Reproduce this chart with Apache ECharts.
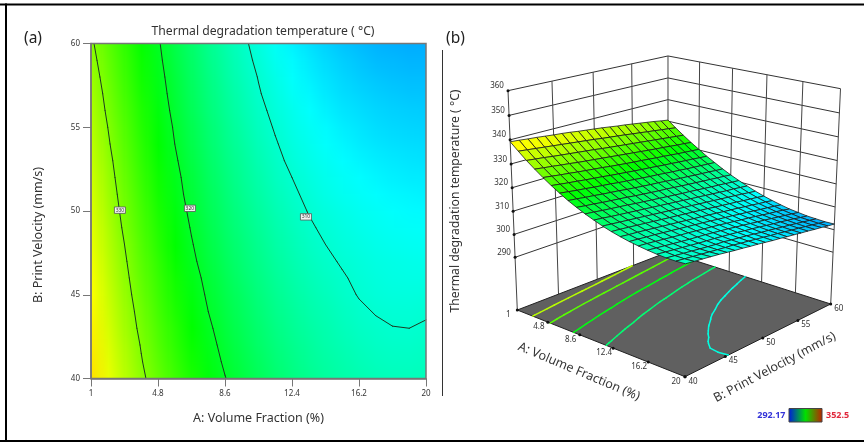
<!DOCTYPE html>
<html lang="en">
<head>
    <meta charset="UTF-8">
    <title>Thermal degradation temperature</title>
    <script src="https://cdn.jsdelivr.net/npm/echarts@6/dist/echarts.min.js"></script>
    <style>
        html, body { margin: 0; background: #fff; }
        #main { width: 864px; height: 442px; }
    </style>
</head>
<body>
<div id="main"></div>
<script>
    // axis ticks
    const volumeTicks = [1, 4.8, 8.6, 12.4, 16.2, 20];
    const velocityTicks = [40, 45, 50, 55, 60];
    const tempTicks = [290, 300, 310, 320, 330, 340, 350, 360];
    const legendRange = [292.17, 352.5];

    // mesh nodes of the response surface
    const volumeGrid = [1, 1.95, 2.9, 3.85, 4.8, 5.75, 6.7, 7.65, 8.6, 9.55, 10.5, 11.45, 12.4, 13.35, 14.3, 15.25, 16.2, 17.15, 18.1, 19.05, 20];
    const velocityGrid = [40, 41, 42, 43, 44, 45, 46, 47, 48, 49, 50, 51, 52, 53, 54, 55, 56, 57, 58, 59, 60];

    // temperature, one row per velocity, one column per volume fraction
    const tempGrid = [
        [339.2, 336.2, 333.3, 330.7, 328.2, 325.9, 323.8, 321.8, 320.1, 318.5, 317.1, 315.8, 314.7, 313.8, 313.0, 312.4, 311.9, 311.5, 311.25, 311.2, 311.4],
        [338.9, 335.8, 332.9, 330.2, 327.7, 325.4, 323.3, 321.4, 319.6, 318.1, 316.7, 315.4, 314.4, 313.4, 312.7, 312.1, 311.5, 311.1, 310.85, 310.8, 311.0],
        [338.5, 335.4, 332.5, 329.8, 327.2, 324.9, 322.8, 320.9, 319.2, 317.6, 316.2, 315.0, 314.0, 313.1, 312.3, 311.7, 311.1, 310.7, 310.45, 310.4, 310.6],
        [338.2, 335.0, 332.0, 329.3, 326.8, 324.5, 322.4, 320.5, 318.7, 317.2, 315.8, 314.6, 313.6, 312.7, 312.0, 311.3, 310.7, 310.3, 310.05, 310.0, 310.2],
        [337.8, 334.6, 331.6, 328.9, 326.3, 324.0, 321.9, 320.0, 318.3, 316.8, 315.4, 314.2, 313.2, 312.3, 311.6, 310.9, 310.3, 309.9, 309.65, 309.6, 309.8],
        [337.4, 334.2, 331.2, 328.4, 325.9, 323.6, 321.5, 319.6, 317.9, 316.4, 315.0, 313.8, 312.8, 311.9, 311.2, 310.5, 309.9, 309.5, 309.25, 309.2, 309.3],
        [337.1, 333.8, 330.8, 328.0, 325.5, 323.2, 321.1, 319.2, 317.5, 315.9, 314.6, 313.4, 312.4, 311.5, 310.8, 310.2, 309.6, 309.2, 308.9, 308.8, 308.8],
        [336.7, 333.4, 330.4, 327.6, 325.1, 322.7, 320.6, 318.7, 317.0, 315.5, 314.2, 313.0, 312.0, 311.1, 310.4, 309.8, 309.3, 308.9, 308.7, 308.5, 308.4],
        [336.2, 333.0, 330.0, 327.2, 324.6, 322.3, 320.2, 318.3, 316.6, 315.1, 313.8, 312.6, 311.6, 310.7, 310.0, 309.4, 308.9, 308.5, 308.2, 308.0, 307.9],
        [335.8, 332.6, 329.5, 326.8, 324.2, 321.9, 319.8, 317.9, 316.2, 314.7, 313.4, 312.2, 311.2, 310.3, 309.6, 309.0, 308.5, 308.1, 307.8, 307.6, 307.5],
        [335.4, 332.1, 329.1, 326.4, 323.8, 321.5, 319.4, 317.5, 315.8, 314.3, 313.0, 311.8, 310.8, 309.9, 309.2, 308.6, 308.1, 307.7, 307.4, 307.1, 307.0],
        [335.0, 331.7, 328.7, 326.0, 323.4, 321.1, 319.0, 317.2, 315.5, 313.9, 312.6, 311.4, 310.4, 309.5, 308.7, 308.1, 307.6, 307.2, 306.9, 306.7, 306.5],
        [334.5, 331.3, 328.3, 325.6, 323.1, 320.8, 318.7, 316.8, 315.1, 313.5, 312.2, 311.0, 310.0, 309.1, 308.3, 307.7, 307.2, 306.8, 306.4, 306.2, 306.1],
        [334.0, 330.9, 327.9, 325.2, 322.7, 320.4, 318.3, 316.4, 314.7, 313.2, 311.8, 310.6, 309.5, 308.6, 307.9, 307.2, 306.7, 306.3, 306.0, 305.8, 305.6],
        [333.6, 330.4, 327.5, 324.8, 322.3, 320.0, 317.9, 316.0, 314.3, 312.8, 311.4, 310.2, 309.1, 308.2, 307.4, 306.8, 306.2, 305.8, 305.5, 305.3, 305.2],
        [333.1, 330.0, 327.1, 324.4, 322.0, 319.7, 317.6, 315.7, 314.0, 312.4, 311.0, 309.8, 308.7, 307.8, 307.0, 306.3, 305.8, 305.3, 305.0, 304.8, 304.7],
        [332.6, 329.5, 326.7, 324.1, 321.6, 319.3, 317.2, 315.3, 313.6, 312.0, 310.6, 309.4, 308.3, 307.3, 306.5, 305.8, 305.3, 304.9, 304.6, 304.4, 304.3],
        [332.1, 329.1, 326.3, 323.7, 321.2, 319.0, 316.9, 315.0, 313.3, 311.7, 310.2, 309.0, 307.8, 306.9, 306.0, 305.3, 304.8, 304.4, 304.1, 303.9, 303.8],
        [331.6, 328.6, 325.9, 323.3, 320.9, 318.7, 316.6, 314.7, 312.9, 311.3, 309.9, 308.6, 307.4, 306.4, 305.6, 304.9, 304.3, 303.9, 303.6, 303.4, 303.4],
        [331.0, 328.2, 325.5, 323.0, 320.6, 318.3, 316.3, 314.3, 312.6, 310.9, 309.5, 308.1, 307.0, 306.0, 305.1, 304.4, 303.8, 303.3, 303.1, 302.9, 302.9],
        [330.5, 327.7, 325.1, 322.6, 320.3, 318.0, 316.0, 314.0, 312.2, 310.6, 309.1, 307.7, 306.5, 305.5, 304.6, 303.8, 303.3, 302.8, 302.6, 302.4, 302.5]
    ];

    const contourLevels = [310, 320, 330];
    const floorLevels = [309.1, 315.6, 321.4, 327.5, 333.2];
    const labelVolume = [13.19, 6.61, 2.64];
    const labelVelocity = [49.65, 50.16, 50.05];

    const rainbow = ['#0000ff', '#00ffff', '#00ff00', '#ffff00', '#ff0000'];
    const tempColor = t => echarts.color.lerp((t - legendRange[0]) / (legendRange[1] - legendRange[0]), rainbow);

    // marching squares over the grid, gives [A1, B1, A2, B2] pieces
    function contourPieces(level) {
        const out = [];
        for (let j = 0; j < velocityGrid.length - 1; j++) {
            for (let i = 0; i < volumeGrid.length - 1; i++) {
                const c = [[i, j], [i + 1, j], [i + 1, j + 1], [i, j + 1]];
                const hits = [];
                for (let k = 0; k < 4; k++) {
                    const p = c[k], q = c[(k + 1) % 4];
                    const vp = tempGrid[p[1]][p[0]], vq = tempGrid[q[1]][q[0]];
                    if ((vp >= level) !== (vq >= level)) {
                        const f = (level - vp) / (vq - vp);
                        hits.push(volumeGrid[p[0]] + f * (volumeGrid[q[0]] - volumeGrid[p[0]]));
                        hits.push(velocityGrid[p[1]] + f * (velocityGrid[q[1]] - velocityGrid[p[1]]));
                    }
                }
                if (hits.length >= 4) out.push(hits.slice(0, 4));
                if (hits.length === 8) out.push(hits.slice(4, 8));
            }
        }
        return out;
    }

    // panel (a) colour field: one pixel per grid node, the browser smooths it when scaling up
    const heatCanvas = document.createElement('canvas');
    heatCanvas.width = volumeGrid.length;
    heatCanvas.height = velocityGrid.length;
    const heatCtx = heatCanvas.getContext('2d');
    tempGrid.forEach((row, j) => row.forEach((t, i) => {
        heatCtx.fillStyle = tempColor(t);
        heatCtx.fillRect(i, velocityGrid.length - 1 - j, 1, 1);
    }));

    // panel (b) camera: floor corners on screen plus the vertical direction
    const floorT = 266.5, topT = 360;
    const corner = { x0: 517.3, y0: 310, x1: 685, y1: 376.7, x3: 668, y3: 252, g: -0.1099, h: 0.1291 };
    const vert = { ax: -38.76, ay: -224.6, c: -0.058 };
    function project(a, b, t) {
        const u = (a - 1) / 19, v = (b - 40) / 20, s = (t - floorT) / (topT - floorT);
        const w = corner.g * u + corner.h * v + 1 + vert.c * s;
        const x = (corner.x1 - corner.x0 + corner.g * corner.x1) * u + (corner.x3 - corner.x0 + corner.h * corner.x3) * v + corner.x0 + vert.ax * s;
        const y = (corner.y1 - corner.y0 + corner.g * corner.y1) * u + (corner.y3 - corner.y0 + corner.h * corner.y3) * v + corner.y0 + vert.ay * s;
        return [x / w, y / w];
    }

    // walls
    const wallLines = [];
    tempTicks.forEach(t => {
        wallLines.push([1, 40, t, 1, 60, t, '#333']);
        wallLines.push([1, 60, t, 20, 60, t, '#333']);
    });
    velocityTicks.forEach(b => wallLines.push([1, b, floorT, 1, b, topT, '#444']));
    volumeTicks.slice(1).forEach(a => wallLines.push([a, 60, floorT, a, 60, topT, '#444']));

    // surface cells, far corner first
    const surfaceCells = [];
    for (let i = 0; i < volumeGrid.length - 1; i++) {
        for (let j = velocityGrid.length - 2; j >= 0; j--) surfaceCells.push([i, j]);
    }

    const floorPieces = [];
    floorLevels.forEach(l => contourPieces(l).forEach(p => floorPieces.push(p.concat(l))));
    const planPieces = [];
    contourLevels.forEach(l => contourPieces(l).forEach(p => planPieces.push(p)));

    // ticks dots and labels of the 3D box
    const boxLabels = [];
    tempTicks.forEach(t => boxLabels.push({ at: [1, 40, t], text: String(t), dx: -11, dy: -4.7 }));
    volumeTicks.forEach(a => boxLabels.push({ at: [a, 40, floorT], text: String(a), dx: -9, dy: 5 }));
    velocityTicks.forEach(b => boxLabels.push({ at: [20, b, floorT], text: String(b), dx: 8, dy: 4.6 }));

    const font = '"Noto Sans", sans-serif';
    const none = { coordinateSystem: 'none', silent: true, animation: false, progressive: 0 };
    const indexData = list => list.map((d, i) => [i]);

    const option = {
        backgroundColor: '#fff',
        animation: false,
        title: {
            text: 'Thermal degradation temperature ( °C)',
            left: 258, top: 21, textAlign: 'center',
            textStyle: { fontFamily: font, fontSize: 12.2, fontWeight: 'normal', color: '#333' }
        },
        grid: { left: 91, top: 43.5, width: 335, height: 335 },
        xAxis: {
            type: 'value', min: 1, max: 20, z: 6,
            name: 'A: Volume Fraction (%)', nameLocation: 'middle', nameGap: 33,
            nameTextStyle: { fontFamily: font, fontSize: 12.5, color: '#333' },
            splitLine: { show: false },
            axisLine: { lineStyle: { color: '#777', width: 1.5 } },
            axisTick: { show: true, customValues: volumeTicks, length: 8, lineStyle: { color: '#777' } },
            axisLabel: { customValues: volumeTicks, fontFamily: font, fontSize: 8, color: '#333', margin: 11 }
        },
        yAxis: {
            type: 'value', min: 40, max: 60, interval: 5, z: 6,
            name: 'B: Print Velocity (mm/s)', nameLocation: 'middle', nameGap: 46,
            nameTextStyle: { fontFamily: font, fontSize: 12.5, color: '#333', padding: [0, 48, 0, 0] },
            splitLine: { show: false },
            axisLine: { show: true, lineStyle: { color: '#777', width: 1.5 } },
            axisTick: { show: true, length: 8, lineStyle: { color: '#777' } },
            axisLabel: { fontFamily: font, fontSize: 8, color: '#333', margin: 11 }
        },
        series: [
            {
                type: 'custom', coordinateSystem: 'cartesian2d', clip: true, silent: true, z: 2,
                data: [[1, 40]],
                renderItem(params, api) {
                    const p0 = api.coord([1, 60]), p1 = api.coord([20, 40]);
                    const cw = (p1[0] - p0[0]) / (volumeGrid.length - 1), ch = (p1[1] - p0[1]) / (velocityGrid.length - 1);
                    return {
                        type: 'image',
                        style: { image: heatCanvas, x: p0[0] - cw / 2, y: p0[1] - ch / 2, width: cw * volumeGrid.length, height: ch * velocityGrid.length }
                    };
                }
            },
            {
                type: 'custom', coordinateSystem: 'cartesian2d', silent: true, z: 3,
                data: planPieces,
                renderItem(params, api) {
                    const p = api.coord([api.value(0), api.value(1)]), q = api.coord([api.value(2), api.value(3)]);
                    return { type: 'line', shape: { x1: p[0], y1: p[1], x2: q[0], y2: q[1] }, style: { stroke: '#1c3a22', lineWidth: 1, lineCap: 'round' } };
                }
            },
            {
                type: 'custom', coordinateSystem: 'cartesian2d', silent: true, z: 4,
                data: contourLevels.map((l, i) => [labelVolume[i], labelVelocity[i], l]),
                renderItem(params, api) {
                    const p = api.coord([api.value(0), api.value(1)]);
                    return {
                        type: 'group', children: [
                            { type: 'rect', shape: { x: p[0] - 5.5, y: p[1] - 3.2, width: 11, height: 6.4 }, style: { fill: '#f2f2f2', stroke: '#555', lineWidth: 0.8 } },
                            { type: 'text', style: { x: p[0], y: p[1], text: String(api.value(2)), font: '5px ' + font, fill: '#333', align: 'center', verticalAlign: 'middle' } }
                        ]
                    };
                }
            },
            {
                // plot border
                type: 'custom', coordinateSystem: 'cartesian2d', silent: true, z: 5,
                data: [[1, 60]],
                renderItem(params, api) {
                    const p0 = api.coord([1, 60]), p1 = api.coord([20, 40]);
                    return { type: 'rect', shape: { x: p0[0], y: p0[1], width: p1[0] - p0[0], height: p1[1] - p0[1] }, style: { fill: 'none', stroke: '#777', lineWidth: 1.5 } };
                }
            },
            Object.assign({}, none, {
                type: 'custom', z: 2, data: indexData(wallLines),
                renderItem(params) {
                    const d = wallLines[params.dataIndex];
                    const p = project(d[0], d[1], d[2]), q = project(d[3], d[4], d[5]);
                    return { type: 'line', shape: { x1: p[0], y1: p[1], x2: q[0], y2: q[1] }, style: { stroke: d[6], lineWidth: 1 } };
                }
            }),
            Object.assign({}, none, {
                type: 'custom', z: 3, data: [[0]],
                renderItem() {
                    return { type: 'polygon', shape: { points: [project(1, 40, floorT), project(20, 40, floorT), project(20, 60, floorT), project(1, 60, floorT)] }, style: { fill: '#606060', stroke: '#222', lineWidth: 1 } };
                }
            }),
            Object.assign({}, none, {
                type: 'custom', z: 4, data: indexData(floorPieces),
                renderItem(params) {
                    const d = floorPieces[params.dataIndex];
                    const p = project(d[0], d[1], floorT), q = project(d[2], d[3], floorT);
                    return { type: 'line', shape: { x1: p[0], y1: p[1], x2: q[0], y2: q[1] }, style: { stroke: tempColor(d[4]), lineWidth: 1.5, lineCap: 'round' } };
                }
            }),
            Object.assign({}, none, {
                type: 'custom', z: 5, data: indexData(surfaceCells),
                renderItem(params) {
                    const i = surfaceCells[params.dataIndex][0], j = surfaceCells[params.dataIndex][1];
                    const nodes = [[i, j], [i + 1, j], [i + 1, j + 1], [i, j + 1]];
                    const vals = nodes.map(n => tempGrid[n[1]][n[0]]);
                    return {
                        type: 'polygon',
                        shape: { points: nodes.map((n, k) => project(volumeGrid[n[0]], velocityGrid[n[1]], vals[k])) },
                        style: { fill: tempColor((vals[0] + vals[1] + vals[2] + vals[3]) / 4), stroke: '#1a1a1a', lineWidth: 0.8 }
                    };
                }
            }),
            Object.assign({}, none, {
                type: 'custom', z: 6, data: indexData(boxLabels),
                renderItem(params) {
                    const d = boxLabels[params.dataIndex];
                    const p = project(d.at[0], d.at[1], d.at[2]);
                    return {
                        type: 'group', children: [
                            { type: 'circle', shape: { cx: p[0], cy: p[1], r: 1.5 }, style: { fill: '#111' } },
                            { type: 'text', style: { x: p[0] + d.dx, y: p[1] + d.dy, text: d.text, font: '8px ' + font, fill: '#333', align: 'center', verticalAlign: 'middle' } }
                        ]
                    };
                }
            })
        ],
        graphic: [
            // outer frame
            { type: 'rect', shape: { x: 0, y: 3.5, width: 864, height: 2 }, style: { fill: '#000' } },
            { type: 'rect', shape: { x: 5, y: 3.5, width: 2, height: 438 }, style: { fill: '#000' } },
            { type: 'rect', shape: { x: 0, y: 440, width: 864, height: 2 }, style: { fill: '#000' } },
            // panel letters
            { type: 'text', style: { x: 24, y: 38.5, text: '(a)', font: '15.5px ' + font, fill: '#222', verticalAlign: 'middle' } },
            { type: 'text', style: { x: 446, y: 38.5, text: '(b)', font: '15.5px ' + font, fill: '#222', verticalAlign: 'middle' } },
            // divider and titles of panel (b)
            { type: 'line', shape: { x1: 442.5, y1: 50, x2: 442.5, y2: 396 }, style: { stroke: '#333', lineWidth: 1 } },
            { type: 'text', x: 456, y: 201, rotation: Math.PI / 2, style: { text: 'Thermal degradation temperature ( °C)', font: '12.2px ' + font, fill: '#333', align: 'center', verticalAlign: 'middle' } },
            { type: 'text', x: 579, y: 371.7, rotation: -23 * Math.PI / 180, style: { text: 'A: Volume Fraction (%)', font: '12.5px ' + font, fill: '#333', align: 'center', verticalAlign: 'middle' } },
            { type: 'text', x: 774.7, y: 367.3, rotation: 27.9 * Math.PI / 180, style: { text: 'B: Print Velocity (mm/s)', font: '12.5px ' + font, fill: '#333', align: 'center', verticalAlign: 'middle' } },
            // colour legend
            {
                type: 'rect', shape: { x: 789, y: 408.5, width: 33, height: 13.5 },
                style: {
                    stroke: '#444', lineWidth: 1,
                    fill: new echarts.graphic.LinearGradient(0, 0, 1, 0, [
                        { offset: 0, color: '#0018e0' }, { offset: 0.5, color: '#00e000' }, { offset: 1, color: '#c02000' }
                    ])
                }
            },
            { type: 'text', style: { x: 785.5, y: 415, text: String(legendRange[0]), font: 'bold 9px ' + font, fill: '#3232d8', align: 'right', verticalAlign: 'middle' } },
            { type: 'text', style: { x: 826, y: 415, text: String(legendRange[1]), font: 'bold 9px ' + font, fill: '#e0283c', align: 'left', verticalAlign: 'middle' } }
        ]
    };

    const chart = echarts.init(document.getElementById('main'), null, { renderer: 'canvas' });
    chart.setOption(option);
</script>
</body>
</html>
